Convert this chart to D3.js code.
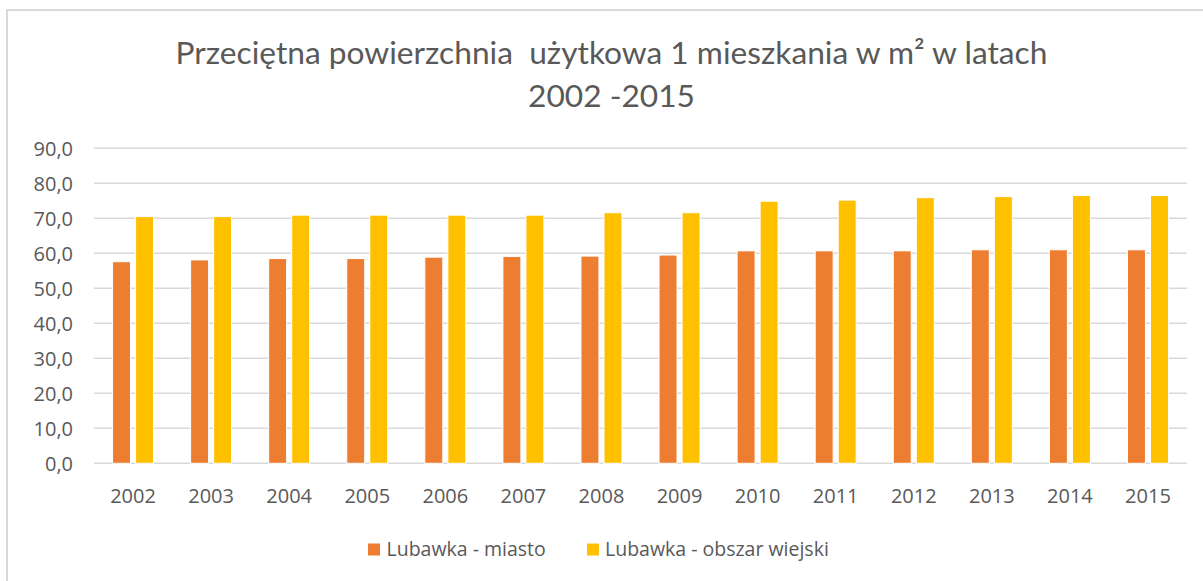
<!DOCTYPE html>
<html>
<head>
<meta charset="utf-8">
<script src="https://cdn.jsdelivr.net/npm/d3@7/dist/d3.min.js"></script>
<style>
  html, body { margin: 0; padding: 0; background: #fff; }
  svg { display: block; }
  text { white-space: pre; }
</style>
</head>
<body>
<svg id="chart" width="1203" height="581"></svg>
<script>
const titleLines = ["Przeciętna powierzchnia  użytkowa 1 mieszkania w m² w latach", "2002 -2015"];
const years = ["2002","2003","2004","2005","2006","2007","2008","2009","2010","2011","2012","2013","2014","2015"];
const seriesNames = ["Lubawka - miasto", "Lubawka - obszar wiejski"];
const miasto  = [57.6, 58.1, 58.5, 58.5, 58.9, 59.1, 59.2, 59.5, 60.7, 60.7, 60.7, 61.0, 61.0, 61.0];
const wiejski = [70.5, 70.5, 70.9, 70.9, 70.9, 70.9, 71.6, 71.6, 74.9, 75.2, 75.9, 76.2, 76.5, 76.5];
const yTicks = [0, 10, 20, 30, 40, 50, 60, 70, 80, 90];
const colors = ["#ED7D31", "#FFC000"];

const svg = d3.select("#chart");
const textColor = "#595959";
const gridColor = "#d9d9d9";

// outer border (chart area frame)
svg.append("rect")
  .attr("x", 7).attr("y", 10).attr("width", 1400).attr("height", 800)
  .attr("fill", "none").attr("stroke", gridColor).attr("stroke-width", 2);

const plot = { left: 94, right: 1187, top: 148.3, bottom: 463.3 };

const x0 = d3.scaleBand().domain(years).range([plot.left, plot.right])
  .paddingInner(0.475).paddingOuter(0.2375);
const x1 = d3.scaleBand().domain(seriesNames).range([0, x0.bandwidth()]).paddingInner(0.22);
const y = d3.scaleLinear().domain([0, 90]).range([plot.bottom, plot.top]);
const xCat = d3.scaleBand().domain(years).range([plot.left, plot.right]);

// gridlines
svg.append("g").selectAll("line").data(yTicks).join("line")
  .attr("x1", plot.left).attr("x2", plot.right)
  .attr("y1", d => y(d)).attr("y2", d => y(d))
  .attr("stroke", gridColor).attr("stroke-width", 1.6);

// y axis labels
const fmt = d => d3.format(".1f")(d).replace(".", ",");
const yAxis = d3.axisLeft(y).tickValues(yTicks).tickFormat(fmt).tickSize(0).tickPadding(0);
const gy = svg.append("g").attr("transform", "translate(73,0)").call(yAxis);
gy.select(".domain").remove();
gy.selectAll("text").attr("font-family", "'Open Sans', sans-serif").attr("font-size", 20)
  .attr("fill", textColor).attr("dy", "0.36em");

// x axis labels
const xAxis = d3.axisBottom(xCat).tickSize(0).tickPadding(0);
const gx = svg.append("g").attr("transform", "translate(0,503)").call(xAxis);
gx.select(".domain").remove();
gx.selectAll("text").attr("font-family", "'Open Sans', sans-serif").attr("font-size", 20)
  .attr("fill", textColor).attr("dy", 0).attr("y", 0);

// bars
const data = years.map((yr, i) => ({ year: yr, values: [miasto[i], wiejski[i]] }));
const groups = svg.append("g").selectAll("g").data(data).join("g")
  .attr("transform", d => `translate(${x0(d.year)},0)`);
groups.selectAll("rect").data(d => d.values.map((v, j) => ({ name: seriesNames[j], v, j })))
  .join("rect")
  .attr("x", d => x1(d.name))
  .attr("width", x1.bandwidth())
  .attr("y", d => y(d.v))
  .attr("height", d => y(0) - y(d.v))
  .attr("fill", d => colors[d.j])
  .attr("stroke", "#ffffff").attr("stroke-width", 1);

// title
const title = svg.append("g");
const tt = title.selectAll("text").data(titleLines).join("text")
  .attr("x", 611.5).attr("y", (d, i) => i === 0 ? 63.5 : 106.5)
  .attr("text-anchor", "middle")
  .attr("font-family", "Lato, 'Open Sans', sans-serif").attr("font-weight", 400)
  .attr("font-size", 29).attr("fill", textColor)
  .text(d => d);
// fit first line to the reference width
const w0 = tt.node().getComputedTextLength();
const fs = Math.max(24, Math.min(36, 29 * 872 / w0));
tt.attr("font-size", fs);

// legend
const legendItems = [
  { name: seriesNames[0], color: colors[0], sx: 368, tx: 386.5 },
  { name: seriesNames[1], color: colors[1], sx: 587, tx: 605 }
];
const lg = svg.append("g");
lg.selectAll("rect").data(legendItems).join("rect")
  .attr("x", d => d.sx).attr("y", 543.5).attr("width", 12).attr("height", 12)
  .attr("fill", d => d.color);
lg.selectAll("text").data(legendItems).join("text")
  .attr("x", d => d.tx).attr("y", 556)
  .attr("font-family", "'Open Sans', sans-serif").attr("font-size", 19.5)
  .attr("fill", textColor).text(d => d.name);
</script>
</body>
</html>
